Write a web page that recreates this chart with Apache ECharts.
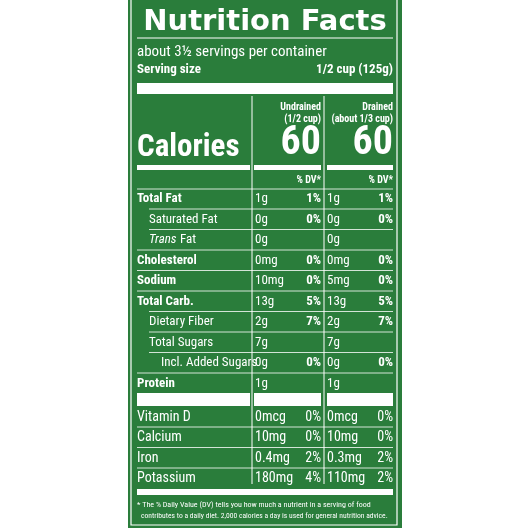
<!DOCTYPE html>
<html><head><meta charset="utf-8">
<script src="https://cdn.jsdelivr.net/npm/echarts@6/dist/echarts.min.js"></script>
<style>html,body{margin:0;background:#fff}#c{width:530px;height:530px}</style>
</head><body><div id="c"></div>
<script>
const nutrients = ["Total Fat","Saturated Fat","Trans Fat","Cholesterol","Sodium","Total Carb.","Dietary Fiber","Total Sugars","Incl. Added Sugars","Protein"];
const nutrientBold = [true,false,false,true,true,true,false,false,false,true];
const nutrientIndent = [0,1,1,0,0,0,1,1,2,0];
const undrainedAmt = ["1g","0g","0g","0mg","10mg","13g","2g","7g","0g","1g"];
const undrainedDV = ["1%","0%","","0%","0%","5%","7%","","0%",""];
const drainedAmt = ["1g","0g","0g","0mg","5mg","13g","2g","7g","0g","1g"];
const drainedDV = ["1%","0%","","0%","0%","5%","7%","","0%",""];
const minerals = ["Vitamin D","Calcium","Iron","Potassium"];
const minUndAmt = ["0mcg","10mg","0.4mg","180mg"];
const minUndDV = ["0%","0%","2%","4%"];
const minDrAmt = ["0mcg","10mg","0.3mg","110mg"];
const minDrDV = ["0%","0%","2%","2%"];
const calories = ["60","60"];
const colHeads = [["Undrained","(1/2 cup)"],["Drained","(about 1/3 cup)"]];

const G = "#2a7d3b", W = "#fff", F = "'Liberation Sans Narrow','Roboto Condensed','Liberation Sans',sans-serif";
const L = 137, R = 393, C1 = 252, C2 = 324;
const els = [];
const rect = (x,y,w,h,fill,stroke,lw)=>els.push({type:'rect',shape:{x,y,width:w,height:h},style:{fill:fill||'none',stroke:stroke||null,lineWidth:lw||0},silent:true});
const line = (x1,y1,x2,y2,lw)=>els.push({type:'line',shape:{x1,y1,x2,y2},style:{stroke:W,lineWidth:lw||1},silent:true});
const text = (t,x,y,size,weight,align,style,family)=>els.push({type:'text',x,y,style:{text:t,fill:W,font:(style||'normal')+' '+(weight||'normal')+' '+size+'px '+(family||F),textAlign:align||'left',textVerticalAlign:'middle'},silent:true});

rect(128,0,274,528,G);
rect(131,-2,266,527,null,W,1.2);
text("Nutrition Facts",265,22,29,'bold','center',null,"'DejaVu Sans',sans-serif");
line(L,38,R,38,1);
text("about 3½ servings per container",L,52,15);
text("Serving size",L,70,13,'bold');
text("1/2 cup (125g)",R,70,13,'bold','right');
rect(L,83,R-L,11,W);
line(C1,96,C1,484,1);line(C2,96,C2,484,1);
colHeads.forEach((h,i)=>{const xr=i?R:C2-3;text(h[0],xr,107,10,'bold','right');text(h[1],xr,119,10,'bold','right');text(calories[i],xr,144,40,'bold','right');});
text("Calories",L,148,31,'bold');
rect(L,165,C1-L-2,5,W);rect(C1+2,165,C2-C1-5,5,W);rect(C2+3,165,R-C2-3,5,W);
text("% DV*",C2-3,180,10,'bold','right');text("% DV*",R,180,10,'bold','right');
line(L,189,R,189,0.8);
const rowH=20.5, y0=199;
nutrients.forEach((n,i)=>{
  const y=y0+i*rowH;
  const x=L+nutrientIndent[i]*12;
  if(n==="Trans Fat"){text("Trans",x,y,13,'normal','left','italic');text("Fat",x+31,y,13);}
  else text(n,x,y,13,nutrientBold[i]?'bold':'normal');
  text(undrainedAmt[i],C1+3,y,13);text(undrainedDV[i],C2-3,y,13,'bold','right');
  text(drainedAmt[i],C2+3,y,13);text(drainedDV[i],R,y,13,'bold','right');
  if(i<nutrients.length-1) line(L+(nutrientIndent[i+1]?12:0),y+10,R,y+10,0.8);
});
rect(L,393,C1-L-2,13,W);rect(C1+2,393,C2-C1-5,13,W);rect(C2+3,393,R-C2-3,13,W);
minerals.forEach((m,i)=>{
  const y=417+i*20.5;
  text(m,L,y,14);text(minUndAmt[i],C1+3,y,14);text(minUndDV[i],C2-3,y,14,'normal','right');
  text(minDrAmt[i],C2+3,y,14);text(minDrDV[i],R,y,14,'normal','right');
  if(i<minerals.length-1) line(L,y+10,R,y+10,0.8);
});
rect(L,489,R-L,6,W);
text("* The % Daily Value (DV) tells you how much a nutrient in a serving of food",L,505,8);
text("contributes to a daily diet. 2,000 calories a day is used for general nutrition advice.",L+4,516,7.6);

const chart = echarts.init(document.getElementById('c'),null,{renderer:'canvas'});
chart.setOption({animation:false,graphic:{elements:els}});
</script></body></html>
